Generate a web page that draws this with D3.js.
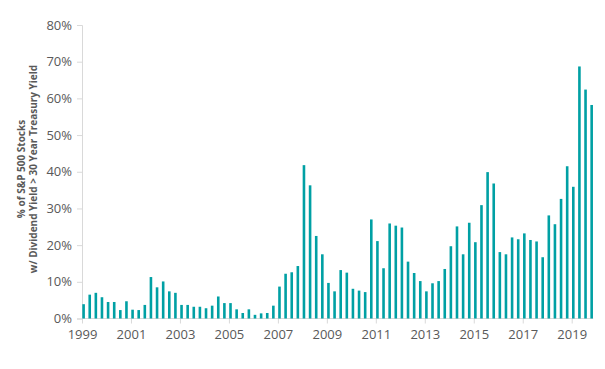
<!DOCTYPE html>
<html>
<head>
<meta charset="utf-8">
<script src="https://cdn.jsdelivr.net/npm/d3@7"></script>
<style>
  body { margin: 0; background: #fff; }
  svg text { font-family: "Open Sans", sans-serif; }
</style>
</head>
<body>
<svg id="chart" width="605" height="369"></svg>
<script>
// quarterly share of S&P 500 stocks whose dividend yield beats the 30y treasury
const firstYear = 1999;
const values = [
  3.9, 6.5, 7.0, 5.8,   4.5, 4.5, 2.3, 4.7,
  2.4, 2.3, 3.7, 11.3,  8.5, 10.1, 7.4, 7.0,
  3.7, 3.7, 3.2, 3.2,   2.8, 3.5, 6.0, 4.2,
  4.2, 2.5, 1.5, 2.5,   1.0, 1.4, 1.5, 3.5,
  8.7, 12.2, 12.6, 14.3, 41.8, 36.3, 22.5, 17.5,
  9.7, 7.4, 13.2, 12.5, 8.1, 7.6, 7.2, 27.0,
  21.1, 13.7, 25.9, 25.3, 24.8, 15.5, 12.4, 10.2,
  7.4, 9.6, 10.2, 13.5, 19.7, 25.1, 17.5, 26.1,
  20.8, 30.9, 39.9, 36.8, 18.1, 17.5, 22.1, 21.6,
  23.2, 21.4, 21.0, 16.7, 28.1, 25.7, 32.6, 41.5,
  35.9, 68.7, 62.4, 58.2
];
const yTicks = [0, 10, 20, 30, 40, 50, 60, 70, 80];
const xTicks = [1999, 2001, 2003, 2005, 2007, 2009, 2011, 2013, 2015, 2017, 2019];
const titleLines = ["% of S&P 500 Stocks", "w/ Dividend Yield > 30 Year Treasury Yield"];

const data = values.map((v, i) => ({ t: firstYear + i / 4, v: v }));

const svg = d3.select("#chart");
const textColor = "#595959";
const axisColor = "#d9d9d9";

const x = d3.scaleLinear().domain([1999, 2019]).range([82, 571.7]);
const y = d3.scaleLinear().domain([0, 80]).range([318.5, 25]);

// y axis
const yAxis = svg.append("g")
  .attr("transform", "translate(82,0)")
  .call(d3.axisLeft(y).tickValues(yTicks).tickFormat(d => d + "%").tickSize(5).tickPadding(5));
yAxis.select(".domain").attr("stroke", axisColor);
yAxis.selectAll(".tick line").attr("stroke", axisColor);
yAxis.selectAll("text").attr("fill", textColor).style("font-size", "13px");

// x axis
const xAxis = svg.append("g")
  .attr("transform", "translate(0,318.5)")
  .call(d3.axisBottom(x).tickValues(xTicks).tickFormat(d3.format("d")).tickSize(5).tickPadding(6).tickSizeOuter(0));
xAxis.select(".domain").remove();
xAxis.append("line")
  .attr("x1", x(1999)).attr("x2", x(2020) - 3)
  .attr("stroke", axisColor);
xAxis.selectAll(".tick line").attr("stroke", axisColor);
xAxis.selectAll("text").attr("fill", textColor).style("font-size", "13px");

// bars
svg.append("g").selectAll("rect")
  .data(data)
  .enter()
  .append("rect")
  .attr("x", d => x(d.t) + 0.3)
  .attr("y", d => y(d.v))
  .attr("width", 2.6)
  .attr("height", d => y(0) - y(d.v))
  .attr("fill", "#00a0a4");

// axis title
const title = svg.append("text")
  .attr("transform", "translate(0,169) rotate(-90)")
  .attr("text-anchor", "middle")
  .attr("fill", textColor)
  .style("font-size", "10px")
  .style("font-weight", "bold");
title.selectAll("tspan")
  .data(titleLines)
  .enter()
  .append("tspan")
  .attr("x", 0)
  .attr("y", (d, i) => 25 + i * 11.5)
  .text(d => d);
</script>
</body>
</html>
